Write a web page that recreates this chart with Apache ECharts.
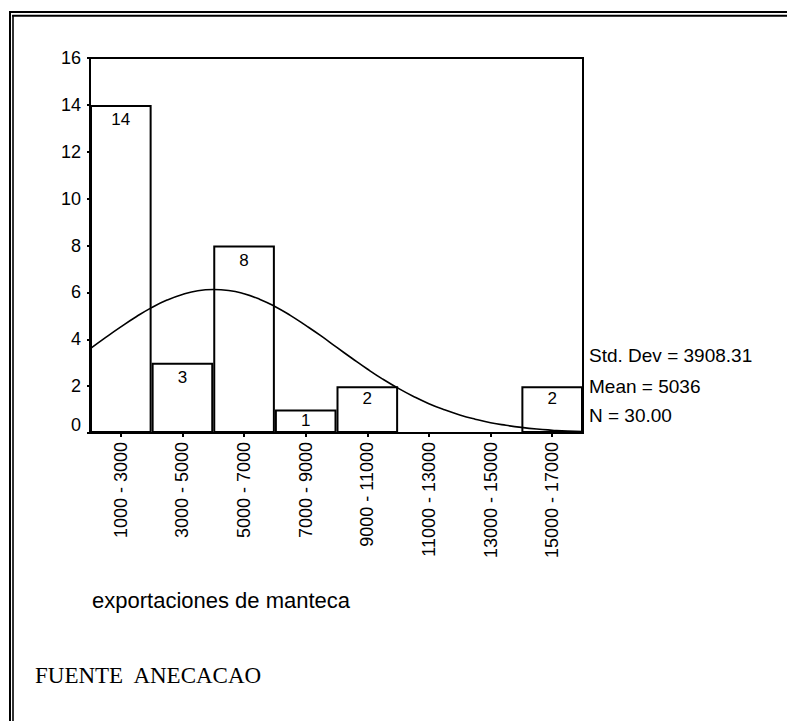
<!DOCTYPE html>
<html>
<head>
<meta charset="utf-8">
<script src="https://cdn.jsdelivr.net/npm/echarts@6/dist/echarts.min.js"></script>
<style>
html,body{margin:0;padding:0;background:#fff;}
#chart{width:787px;height:721px;}
</style>
</head>
<body>
<div id="chart"></div>
<script>
// ---- data ----
const categories = ['1000 - 3000','3000 - 5000','5000 - 7000','7000 - 9000','9000 - 11000','11000 - 13000','13000 - 15000','15000 - 17000'];
const counts = [14, 3, 8, 1, 2, 0, 0, 2];
const yTicks = [0, 2, 4, 6, 8, 10, 12, 14, 16];
// normal curve (x in data units, y in counts)
const curveX = [1000,1500,2000,2500,3000,3500,4000,4500,5000,5500,6000,6500,7000,7500,8000,8500,9000,9500,10000,10500,11000,11500,12000,12500,13000,13500,14000,14500,15000,15500,16000,16500,17000];
const curveY = [3.59,4.07,4.53,4.96,5.35,5.67,5.91,6.07,6.12,6.08,5.94,5.71,5.40,5.02,4.59,4.14,3.66,3.19,2.73,2.30,1.91,1.56,1.25,0.99,0.77,0.59,0.44,0.33,0.24,0.17,0.12,0.08,0.06];
const statsLines = ['Std. Dev = 3908.31', 'Mean = 5036', 'N = 30.00'];
const axisTitle = 'exportaciones de manteca';
const sourceNote = 'FUENTE  ANECACAO';

// ---- chart ----
const FONT = '"Liberation Sans", Arial, sans-serif';
const chart = echarts.init(document.getElementById('chart'), null, {renderer: 'svg'});

const barData = counts.map(v => ({
  value: v,
  label: {distance: v === 1 ? 2 : (v === 2 ? 4 : 6)}
}));

const statsGraphics = statsLines.map((t, i) => ({
  type: 'text',
  left: 589,
  top: [346, 377, 406][i],
  style: {text: t, font: '19px ' + FONT, fill: '#000'}
}));

chart.setOption({
  animation: false,
  backgroundColor: '#fff',
  grid: {
    left: 90, top: 58, right: 204, bottom: 288,
    show: true, borderColor: '#000', borderWidth: 2, backgroundColor: '#fff'
  },
  xAxis: [
    {
      type: 'category',
      data: categories,
      axisLine: {show: true, lineStyle: {color: '#000', width: 2}},
      axisTick: {show: true, alignWithLabel: true, length: 4, lineStyle: {color: '#000', width: 2}},
      axisLabel: {rotate: 90, margin: 9, fontSize: 18, fontFamily: FONT, color: '#000', interval: 0},
      splitLine: {show: false}
    },
    {
      type: 'value', min: 1000, max: 17000, show: false,
      splitLine: {show: false}
    }
  ],
  yAxis: {
    type: 'value', min: yTicks[0], max: yTicks[yTicks.length - 1], interval: 2,
    axisLine: {show: true, lineStyle: {color: '#000', width: 2}},
    axisTick: {show: true, length: 3, lineStyle: {color: '#000', width: 2}},
    axisLabel: {
      margin: 9, fontSize: 18, fontFamily: FONT, color: '#000',
      formatter: v => v === 0 ? '{z|0}' : String(v),
      rich: {z: {fontSize: 18, fontFamily: FONT, color: '#000', padding: [0, 0, 16, 0]}}
    },
    splitLine: {show: false}
  },
  series: [
    {
      type: 'bar',
      xAxisIndex: 0, yAxisIndex: 0,
      data: barData,
      barWidth: '100%',
      barCategoryGap: '0%',
      itemStyle: {color: '#fff', borderColor: '#000', borderWidth: 2},
      label: {
        show: true, position: 'insideTop', fontSize: 17, fontFamily: FONT, color: '#000',
        formatter: p => p.value === 0 ? '' : String(p.value)
      },
      z: 2
    },
    {
      type: 'line',
      xAxisIndex: 1, yAxisIndex: 0,
      data: curveX.map((x, i) => [x, curveY[i]]),
      smooth: true,
      showSymbol: false,
      lineStyle: {color: '#000', width: 1.6},
      z: 3
    }
  ],
  graphic: [
    {type: 'line', shape: {x1: 10, y1: 11, x2: 10, y2: 721}, style: {stroke: '#000', lineWidth: 2}},
    {type: 'line', shape: {x1: 13, y1: 15, x2: 13, y2: 721}, style: {stroke: '#000', lineWidth: 1.6}},
    {type: 'line', shape: {x1: 9, y1: 12, x2: 787, y2: 12}, style: {stroke: '#000', lineWidth: 2}},
    {type: 'line', shape: {x1: 12.2, y1: 15.7, x2: 787, y2: 15.7}, style: {stroke: '#000', lineWidth: 2}},
    {type: 'text', left: 92, top: 589, style: {text: axisTitle, font: '22px ' + FONT, fill: '#000'}},
    {type: 'text', left: 35, top: 664, style: {text: sourceNote, font: '23px "Liberation Serif", "Times New Roman", serif', fill: '#000'}}
  ].concat(statsGraphics)
});
</script>
</body>
</html>
